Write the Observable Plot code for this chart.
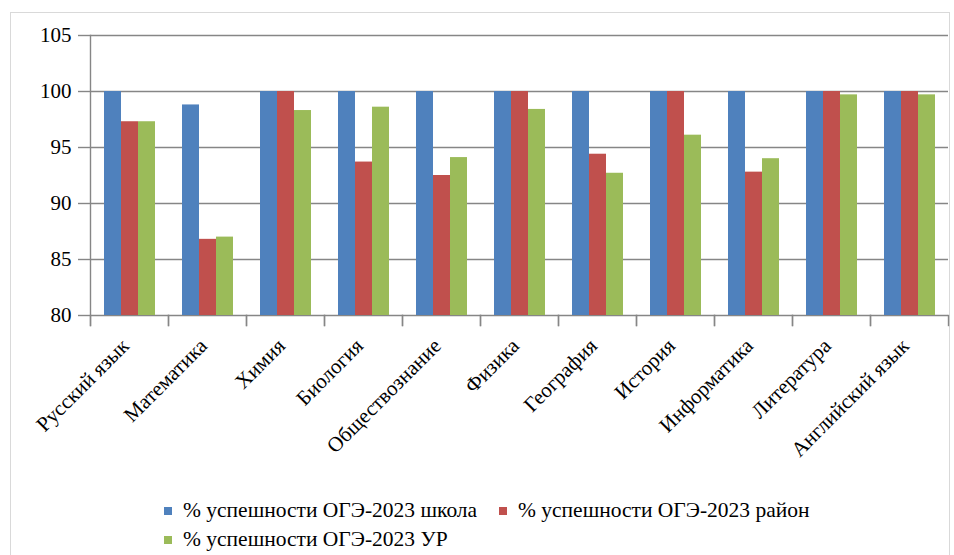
<!DOCTYPE html>
<html>
<head>
<meta charset="utf-8">
<script src="https://cdn.jsdelivr.net/npm/d3@7"></script>
<script src="https://cdn.jsdelivr.net/npm/@observablehq/plot@0.6"></script>
<style>
  html, body { margin: 0; padding: 0; background: #fff; }
  body { width: 954px; height: 555px; position: relative; overflow: hidden; font-family: "Liberation Serif", "Times New Roman", serif; }
  #border { position: absolute; left: 10px; top: 12px; width: 940px; height: 600px; border: 1px solid #d9d9d9; box-sizing: border-box; }
  #chart { position: absolute; left: 0; top: 0; }
  #legend { position: absolute; left: 0; top: 498px; width: 954px; font-size: 21.5px; line-height: 25px; color: #000; }
  .item { position: absolute; white-space: nowrap; display: flex; align-items: center; height: 25px; }
  .sw { width: 8px; height: 8px; margin-right: 11px; display: inline-block; }
</style>
</head>
<body>
<div id="border"></div>
<div id="chart"></div>
<div id="legend"></div>
<script>
const categories = ["Русский язык", "Математика", "Химия", "Биология", "Обществознание", "Физика", "География", "История", "Информатика", "Литература", "Английский язык"];
const series = ["% успешности ОГЭ-2023 школа", "% успешности ОГЭ-2023 район", "% успешности ОГЭ-2023 УР"];
const school   = [100, 98.8, 100, 100, 100, 100, 100, 100, 100, 100, 100];
const district = [97.3, 86.8, 100, 93.7, 92.5, 100, 94.4, 100, 92.8, 100, 100];
const region   = [97.3, 87.0, 98.3, 98.6, 94.1, 98.4, 92.7, 96.1, 94.0, 99.7, 99.7];
const yTicks = [80, 85, 90, 95, 100, 105];
const colors = ["#4F81BD", "#C0504D", "#9BBB59"];

const valuesBySeries = [school, district, region];
const rows = [];
categories.forEach((c, i) => {
  series.forEach((s, j) => rows.push({category: c, series: s, value: valuesBySeries[j][i]}));
});

const W = 954, H = 470, mt = 35, mb = 155, ml = 88, mr = 5;
const innerH = H - mt - mb;
const gridColor = "#868686";
const font = "'Liberation Serif', 'Times New Roman', serif";

const chart = Plot.plot({
  width: W, height: H,
  marginTop: mt, marginBottom: mb, marginLeft: ml, marginRight: mr,
  style: {fontFamily: font, fontSize: "21px", background: "transparent", color: "#000"},
  fx: {domain: categories, padding: 0, axis: null, label: null},
  x: {domain: series, axis: null, paddingInner: 0, paddingOuter: 0.715},
  y: {domain: [yTicks[0], yTicks[yTicks.length - 1]], axis: null, label: null},
  color: {domain: series, range: colors},
  marks: [
    Plot.ruleY(yTicks, {stroke: gridColor, strokeWidth: 1.4}),
    Plot.barY(rows, {fx: "category", x: "series", y1: yTicks[0], y2: "value", fill: "series"}),
    Plot.frame({anchor: "left", stroke: gridColor, strokeWidth: 1.4, insetTop: innerH, insetBottom: -10}),
    Plot.frame({anchor: "right", stroke: gridColor, strokeWidth: 1.4, insetTop: innerH, insetBottom: -10}),
    Plot.frame({anchor: "left", facetAnchor: "left", stroke: gridColor, strokeWidth: 1.4, insetBottom: -10}),
    Plot.axisY({ticks: yTicks, label: null, tickSize: 12, tickPadding: 7, stroke: gridColor, fill: "#000", strokeWidth: 1.4, fontSize: 21, tickFormat: d => String(d), facetAnchor: "left"}),
    Plot.axisFx({anchor: "bottom", label: null, tickSize: 0, tickRotate: -45, tickPadding: 27, dx: -4, fontSize: 21, fill: "#000"})
  ]
});
document.getElementById("chart").appendChild(chart);

const legendItems = [
  {i: 0, left: 164, top: 0},
  {i: 1, left: 499, top: 0},
  {i: 2, left: 164, top: 29}
];
const legend = document.getElementById("legend");
legendItems.forEach(({i, left, top}) => {
  const d = document.createElement("div");
  d.className = "item";
  d.style.left = left + "px";
  d.style.top = top + "px";
  d.innerHTML = `<span class="sw" style="background:${colors[i]}"></span><span>${series[i]}</span>`;
  legend.appendChild(d);
});
</script>
</body>
</html>
